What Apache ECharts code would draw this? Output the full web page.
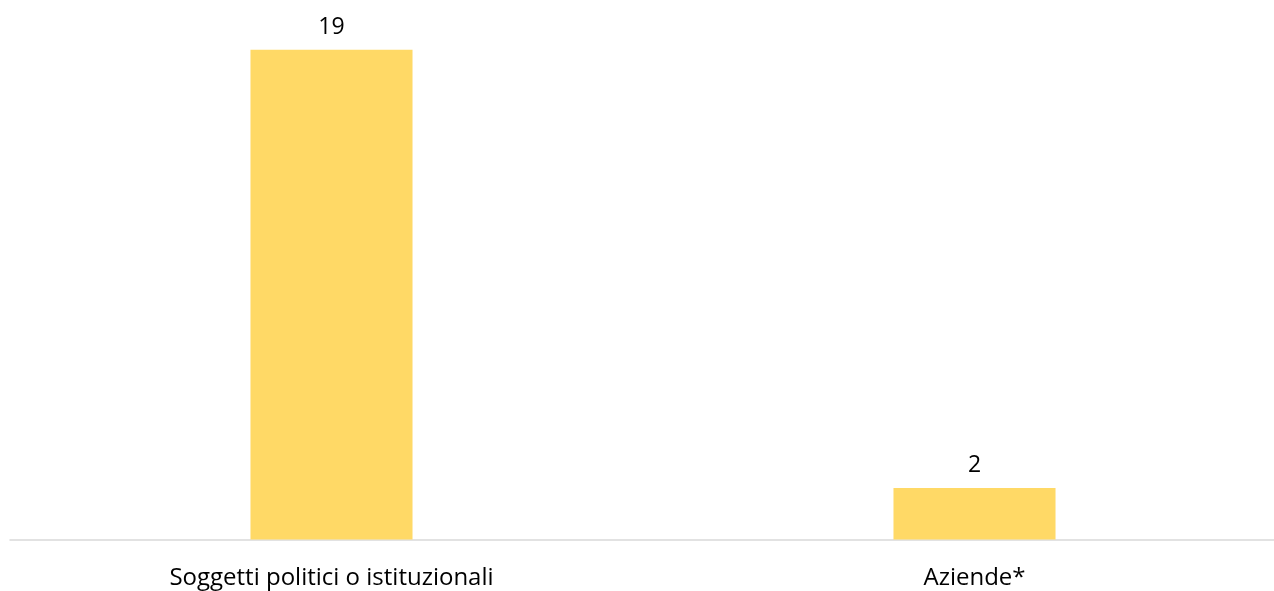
<!DOCTYPE html>
<html>
<head>
<meta charset="utf-8">
<script src="https://cdn.jsdelivr.net/npm/echarts@6/dist/echarts.min.js"></script>
<style>html,body{margin:0;padding:0;background:#fff;}#c{width:1274px;height:591px;}</style>
</head>
<body>
<div id="c"></div>
<script>
const categories = ["Soggetti politici o istituzionali", "Aziende*"];
const values = [19, 2];

const chart = echarts.init(document.getElementById('c'), null, {renderer: 'canvas'});
chart.setOption({
  animation: false,
  backgroundColor: '#ffffff',
  grid: {left: 10, right: -22, top: 24, bottom: 51.5, containLabel: false, outerBoundsMode: 'none'},
  xAxis: {
    type: 'category',
    data: categories,
    axisLine: {show: true, lineStyle: {color: '#D9D9D9', width: 1.5}},
    axisTick: {show: false},
    axisLabel: {color: '#000', fontFamily: 'Open Sans', fontSize: 24, margin: 27}
  },
  yAxis: {type: 'value', min: 0, max: 20, show: false, splitLine: {show: false}},
  series: [{
    type: 'bar',
    data: values,
    barWidth: '25.2%',
    itemStyle: {color: '#FFD966'},
    label: {show: true, position: 'top', distance: 11, color: '#000', fontFamily: 'Open Sans', fontSize: 23}
  }]
});
</script>
</body>
</html>
